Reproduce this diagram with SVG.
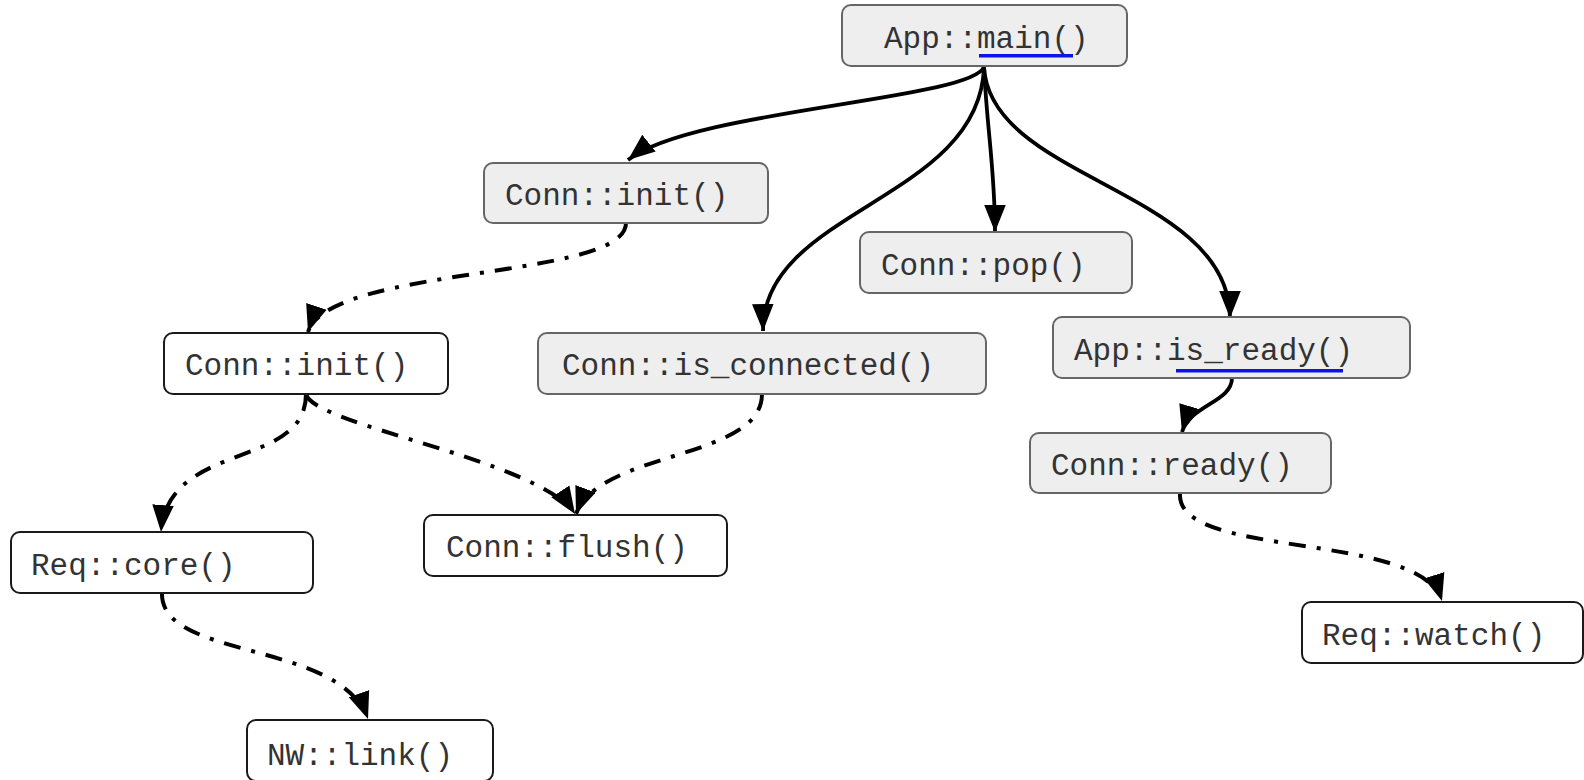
<svg xmlns="http://www.w3.org/2000/svg" width="1584" height="780" viewBox="0 0 1584 780">
<defs>
<style>
.g rect.b{fill:#eeeeee;stroke:#666666;stroke-width:2}
.w rect.b{fill:#ffffff;stroke:#1a1a1a;stroke-width:2}
text{font-family:"Liberation Mono","Courier New",monospace;font-size:31px;fill:#333333}
rect.ul{fill:#0a14e6;stroke:none}
.e path{fill:none;stroke:#000;stroke-width:3.8}
.e path.d{stroke-dasharray:17 11 4 11;stroke-width:4}
</style>
<marker id="ah" markerUnits="userSpaceOnUse" markerWidth="28" markerHeight="22" refX="25" refY="10" orient="auto" viewBox="0 0 26 20">
<path d="M0,0 L25,10 L0,20 Z" fill="#000"/>
</marker>
</defs>
<rect width="1584" height="780" fill="#ffffff"/>
<g id="edges" class="e">
<path d="M984,67 C970,100 690,110 628,160" marker-end="url(#ah)"/>
<path d="M984,67 C980,200 762,210 763,331" marker-end="url(#ah)"/>
<path d="M984,67 C987,130 995,170 995,232" marker-end="url(#ah)"/>
<path d="M984,67 C990,180 1230,190 1230,318" marker-end="url(#ah)"/>
<path d="M1232,378 C1232,402 1190,405 1182,432" marker-end="url(#ah)"/>
<path class="d" d="M626,223 C626,280 330,265 308,332" marker-end="url(#ah)"/>
<path class="d" d="M306,394 C306,470 168,440 161,532" marker-end="url(#ah)"/>
<path class="d" d="M306,394 C312,425 540,460 575,514" marker-end="url(#ah)"/>
<path class="d" d="M762,394 C762,460 600,450 576,514" marker-end="url(#ah)"/>
<path class="d" d="M162,593 C160,660 340,640 368,719" marker-end="url(#ah)"/>
<path class="d" d="M1180,493 C1175,560 1420,530 1442,601" marker-end="url(#ah)"/>
</g>
<g id="app_main" class="g"><rect class="b" x="842" y="5" width="285" height="61" rx="9"/><text x="884" y="48">App::main()</text><rect class="ul" x="979" y="54" width="94" height="3.5"/></g>
<g id="conn_init_1" class="g"><rect class="b" x="484" y="163" width="284" height="60" rx="9"/><text x="505" y="205">Conn::init()</text></g>
<g id="conn_init_2" class="w"><rect class="b" x="164" y="333" width="284" height="61" rx="9"/><text x="185" y="375">Conn::init()</text></g>
<g id="conn_is_connected" class="g"><rect class="b" x="538" y="333" width="448" height="61" rx="9"/><text x="562" y="375">Conn::is_connected()</text></g>
<g id="conn_pop" class="g"><rect class="b" x="860" y="232" width="272" height="61" rx="9"/><text x="881" y="275">Conn::pop()</text></g>
<g id="app_is_ready" class="g"><rect class="b" x="1053" y="317" width="357" height="61" rx="9"/><text x="1074" y="360">App::is_ready()</text><rect class="ul" x="1176" y="369" width="167" height="3.5"/></g>
<g id="conn_ready" class="g"><rect class="b" x="1030" y="433" width="301" height="60" rx="9"/><text x="1051" y="475">Conn::ready()</text></g>
<g id="req_core" class="w"><rect class="b" x="11" y="532" width="302" height="61" rx="9"/><text x="31" y="575">Req::core()</text></g>
<g id="conn_flush" class="w"><rect class="b" x="424" y="515" width="303" height="61" rx="9"/><text x="446" y="557">Conn::flush()</text></g>
<g id="nw_link" class="w"><rect class="b" x="247" y="720" width="246" height="61" rx="9"/><text x="267" y="765">NW::link()</text></g>
<g id="req_watch" class="w"><rect class="b" x="1302" y="602" width="281" height="61" rx="9"/><text x="1322" y="645">Req::watch()</text></g>
</svg>
